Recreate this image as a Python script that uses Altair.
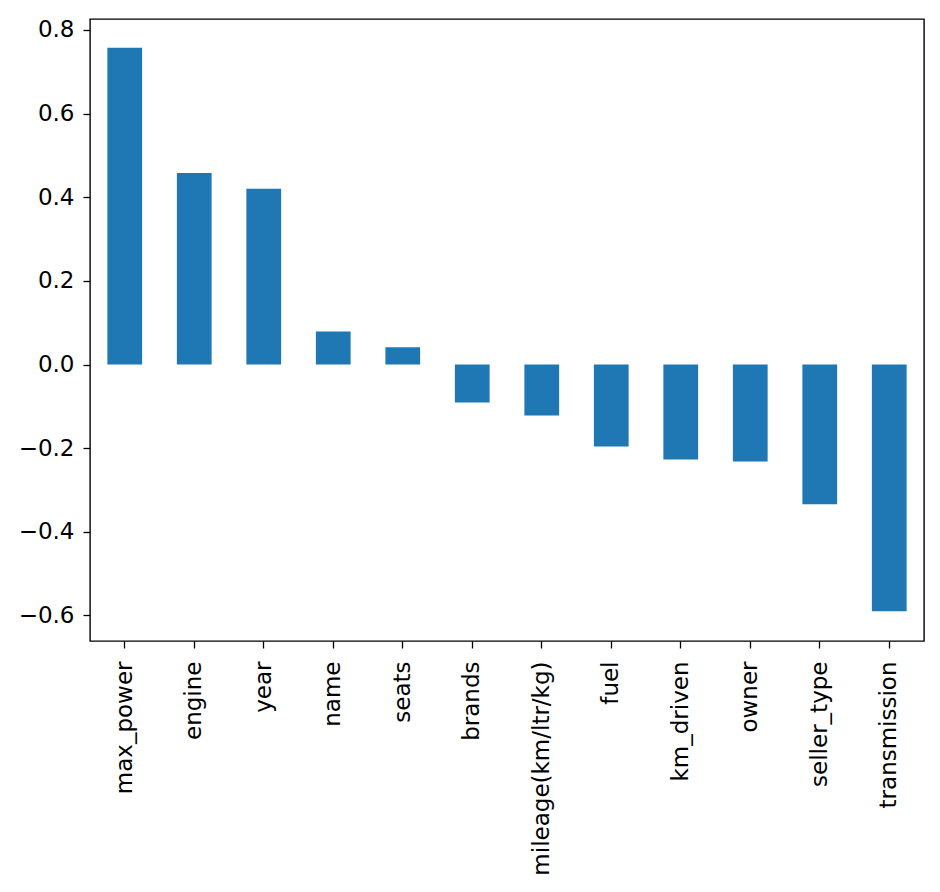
import altair as alt
import pandas as pd

features = ["max_power", "engine", "year", "name", "seats", "brands",
            "mileage(km/ltr/kg)", "fuel", "km_driven", "owner", "seller_type", "transmission"]
values = [0.757, 0.458, 0.420, 0.079, 0.041, -0.091,
          -0.122, -0.196, -0.227, -0.232, -0.334, -0.590]
yticks = [-0.6, -0.4, -0.2, 0.0, 0.2, 0.4, 0.6, 0.8]

df = pd.DataFrame({"feature": features, "value": values})

chart = alt.Chart(df).mark_bar(color="#1f77b4").encode(
    x=alt.X("feature:N", sort=None, title=None,
            scale=alt.Scale(paddingInner=0.5, paddingOuter=0.25),
            axis=alt.Axis(labelAngle=270, labelFontSize=23, labelFont="DejaVu Sans",
                          labelColor="#000000", tickColor="#000000", tickSize=7,
                          tickWidth=1.3, domain=False, labelPadding=13, grid=False,
                          labelLimit=0)),
    y=alt.Y("value:Q", title=None,
            scale=alt.Scale(domain=[-0.661, 0.826], nice=False, zero=False),
            axis=alt.Axis(values=yticks, format=".1f", labelFontSize=23,
                          labelFont="DejaVu Sans", labelColor="#000000",
                          tickColor="#000000", tickSize=7, tickWidth=1.3,
                          domain=False, labelPadding=9, grid=False)),
).properties(
    width=834, height=622,
    autosize=alt.AutoSizeParams(type="none"),
    padding={"left": 82, "top": 11, "right": 8, "bottom": 250},
).configure_view(
    stroke="#000000", strokeWidth=1.4
)

chart.save("out.html", embed_options={"renderer": "svg", "actions": False})
